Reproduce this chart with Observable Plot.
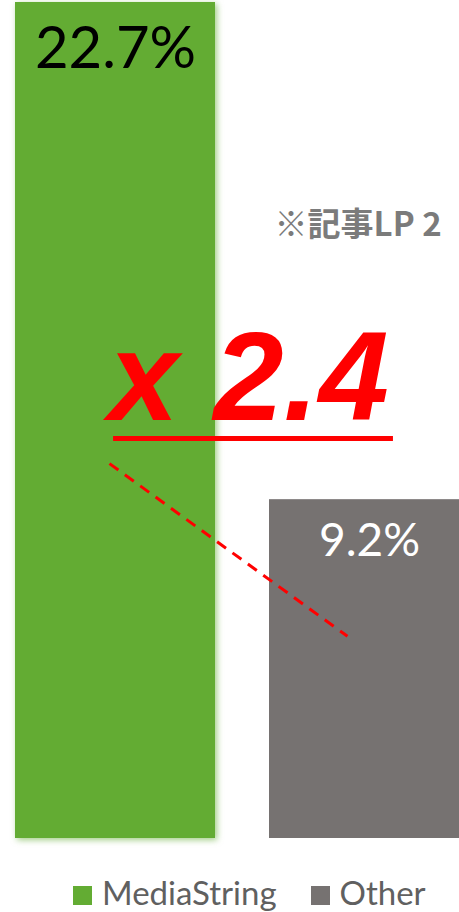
<!DOCTYPE html>
<html><head><meta charset="utf-8">
<script src="https://cdn.jsdelivr.net/npm/d3@7"></script>
<script src="https://cdn.jsdelivr.net/npm/@observablehq/plot@0.6"></script>
<style>
html,body{margin:0;padding:0;background:#fff;overflow:hidden;width:459px;height:912px}
#chart{position:absolute;left:0;top:0}
#legend{position:absolute;left:73px;top:876px;height:33px;line-height:33px;display:flex;align-items:flex-start;font-family:Lato,"Noto Sans",sans-serif;font-size:33px;color:#606060;white-space:nowrap}
.item{display:flex;align-items:flex-start;margin-right:34px;height:33px}
.sw{width:19px;height:19px;margin-right:10px;margin-top:10px;flex:none}
</style></head><body>
<div id="chart"></div>
<div id="legend"></div>
<script>
// data
const categories = ["MediaString", "Other"];
const values = [22.7, 9.2];
const valueLabels = ["22.7%", "9.2%"];
const barColors = ["#63ac33", "#767271"];
const labelColors = ["#000000", "#ffffff"];
const ratioLabel = "x 2.4";
const noteLabel = "※記事LP 2";

const bw = 200 / 254; // bar width in slot units
const data = categories.map((c, i) => ({cat: c, i, value: values[i], label: valueLabels[i], color: barColors[i], lc: labelColors[i]}));

const chart = Plot.plot({
  width: 459,
  height: 860,
  marginLeft: 0, marginRight: 0, marginTop: 0, marginBottom: 0,
  x: {type: "linear", domain: [0, 1 + bw], range: [15, 469], axis: null},
  y: {domain: [0, 22.7], range: [838, 2], axis: null},
  color: {type: "identity"},
  marks: [
    Plot.rectY(data, {x1: d => d.i, x2: d => d.i + bw, y1: 0, y2: "value", fill: "color"}),
    Plot.text(data, {x: d => d.i + bw / 2, y: "value", text: "label", fill: "lc", lineAnchor: "top", dy: 24,
      fontSize: d => d.i === 0 ? 58 : 46, fontFamily: "Lato, 'Noto Sans', sans-serif", textAnchor: "middle"}),
    // annotation: note
    Plot.text([noteLabel], {x: 1.02, y: 17.0, text: d => d, textAnchor: "start", lineAnchor: "top",
      fontSize: 33, fontWeight: "bold", fill: "#7b7b7b", fontFamily: "'Noto Sans CJK JP', sans-serif", letterSpacing: 1}),
    // dashed connector
    Plot.link([{x1: 0.370, y1: 10.18, x2: 1.307, y2: 5.49}], {x1: "x1", y1: "y1", x2: "x2", y2: "y2",
      stroke: "#ff0000", strokeWidth: 3, strokeDasharray: "11,8"}),
    // ratio label
    Plot.text([ratioLabel], {x: 0.366, y: 13.78, text: d => d, textAnchor: "start", lineAnchor: "top",
      fontSize: 126, fontWeight: "bold", fontStyle: "italic", fill: "#ff0000", fontFamily: "'Liberation Sans', Arial, sans-serif"}),
    Plot.ruleY([10.86], {x1: 0.386, x2: 1.488, stroke: "#ff0000", strokeWidth: 5})
  ]
});
document.getElementById("chart").appendChild(chart);
const firstRect = chart.querySelector("rect");
if (firstRect) firstRect.style.filter = "drop-shadow(2px 2px 3px rgba(99,172,51,0.6))";

const legend = document.getElementById("legend");
categories.forEach((c, i) => {
  const it = document.createElement("div"); it.className = "item";
  const sw = document.createElement("div"); sw.className = "sw"; sw.style.background = barColors[i];
  const t = document.createElement("span"); t.textContent = c;
  it.appendChild(sw); it.appendChild(t); legend.appendChild(it);
});
</script>
</body></html>
